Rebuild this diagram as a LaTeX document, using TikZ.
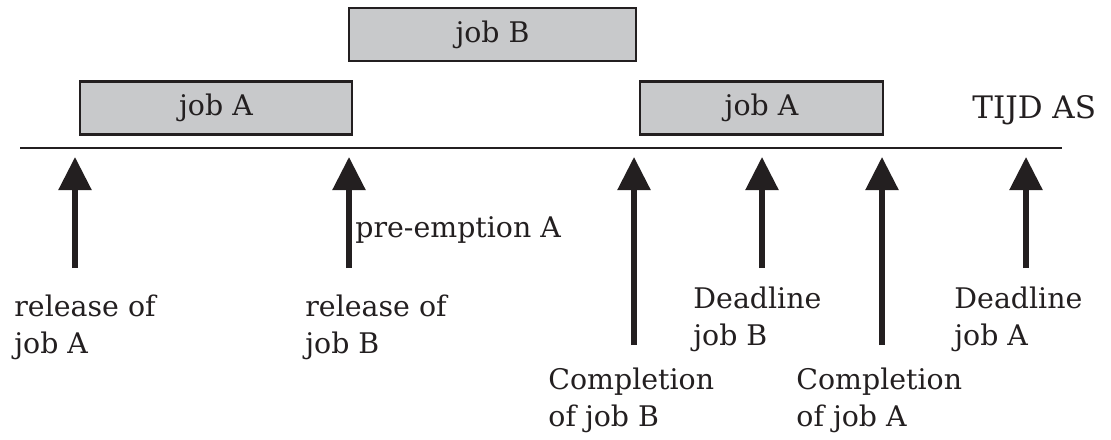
\documentclass[tikz,border=0pt]{standalone}
\usepackage{fontspec}
\setmainfont{DejaVu Serif}
\usetikzlibrary{arrows.meta}
\definecolor{jobgray}{RGB}{200,201,203}
\definecolor{ink}{RGB}{35,31,32}
\begin{document}
\begin{tikzpicture}[x=0.5pt,y=-0.5pt,
		job/.style={draw=ink,line width=1.2pt,fill=jobgray,minimum height=26.5pt,inner sep=0pt,text=ink,font=\fontsize{14.2}{18.5}\selectfont},
		event/.style={draw=ink,line width=2.75pt,-{Triangle[width=16pt,length=16.5pt,fill=ink]}},
		lbl/.style={anchor=base west,inner sep=0pt,align=left,text=ink,font=\fontsize{14.2}{18.5}\selectfont}]
	\useasboundingbox (0,0) rectangle (1111,439);
	% jobs on the time axis
	\node[job,minimum width=136pt] (jobA1) at (216,108) {job A};
	\node[job,minimum width=143.5pt] (jobB) at (492.5,34.5) {job B};
	\node[job,minimum width=121.5pt] (jobA2) at (761.5,108) {job A};
	\coordinate (t0) at (20,148);
	\coordinate (t1) at (1062,148);
	\draw[ink,line width=1pt] (t0) -- (t1);
	\node[lbl,font=\fontsize{15.5}{18.5}\selectfont] (axis) at (972,118) {TIJD AS};
	% events
	\foreach \n/\x/\yb in {rA/75/268,rB/349/268,cB/634/345,dB/762/268,cA/882/345,dA/1026/268} {
		\coordinate (\n0) at (\x,\yb);
		\coordinate (\n1) at (\x,157);
		\draw[event] (\n0) -- (\n1);
	}
	\node[lbl] (relA) at (14,353) {release of\\job A};
	\node[lbl] (relB) at (305,353) {release of\\job B};
	\node[lbl] (pre) at (355,237) {pre-emption A};
	\node[lbl] (compB) at (548,426) {Completion\\of job B};
	\node[lbl] (dlB) at (693,345) {Deadline\\job B};
	\node[lbl] (compA) at (796,426) {Completion\\of job A};
	\node[lbl] (dlA) at (954,345) {Deadline\\job A};
\end{tikzpicture}
\end{document}
